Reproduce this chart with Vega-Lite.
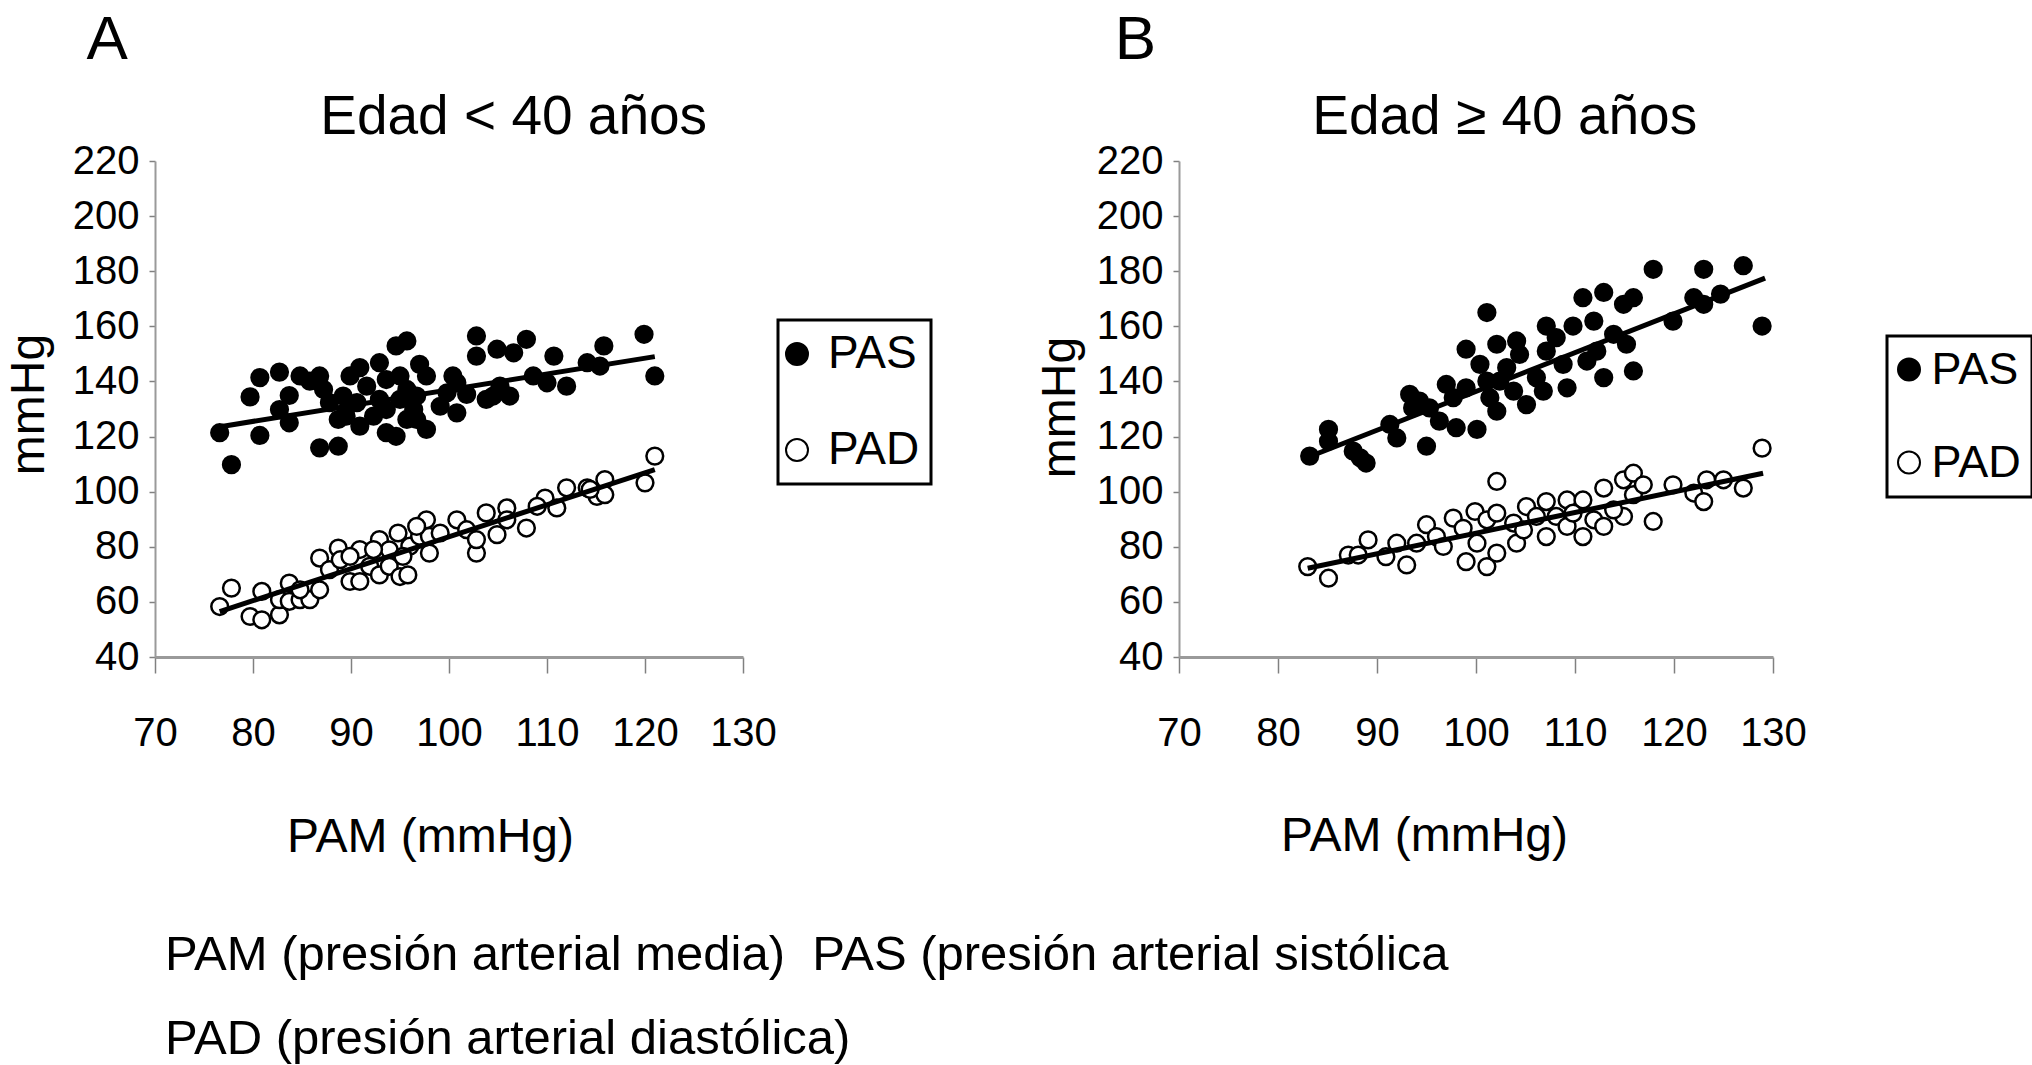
{
  "$schema": "https://vega.github.io/schema/vega-lite/v6.json",
  "autosize": {"type": "none"},
  "padding": {"left": 155, "top": 161, "right": 1877, "bottom": 904},
  "background": "white",
  "config": {
    "font": "Liberation Sans",
    "view": {"stroke": null},
    "axis": {
      "grid": false,
      "domainColor": "#9a9a9a",
      "tickColor": "#808080",
      "labelColor": "black",
      "titleColor": "black",
      "labelFont": "Liberation Sans",
      "titleFont": "Liberation Sans",
      "titleFontWeight": "normal",
      "labelFontSize": 40,
      "titleFontSize": 48,
      "labelFlush": false,
      "labelOverlap": false
    },
    "legend": {
      "labelFont": "Liberation Sans",
      "labelColor": "black",
      "strokeWidth": 3
    }
  },
  "title": {
    "text": ["PAM (presión arterial media)\u00a0 PAS (presión arterial sistólica", "PAD (presión arterial diastólica)"],
    "orient": "bottom",
    "anchor": "start",
    "frame": "group",
    "dx": 10,
    "offset": 70,
    "fontSize": 49,
    "fontWeight": "normal",
    "font": "Liberation Sans",
    "lineHeight": 84,
    "color": "black"
  },
  "datasets": {
    "pts": [
      {"panel":"A","serie":"PAS","pam":76.6,"mmhg":121.4},
      {"panel":"A","serie":"PAS","pam":77.8,"mmhg":109.8},
      {"panel":"A","serie":"PAS","pam":79.7,"mmhg":134.4},
      {"panel":"A","serie":"PAS","pam":80.7,"mmhg":141.4},
      {"panel":"A","serie":"PAS","pam":80.7,"mmhg":120.4},
      {"panel":"A","serie":"PAS","pam":82.7,"mmhg":143.4},
      {"panel":"A","serie":"PAS","pam":83.7,"mmhg":134.9},
      {"panel":"A","serie":"PAS","pam":83.7,"mmhg":125},
      {"panel":"A","serie":"PAS","pam":84.8,"mmhg":142},
      {"panel":"A","serie":"PAS","pam":82.7,"mmhg":129.8},
      {"panel":"A","serie":"PAS","pam":85.8,"mmhg":140.1},
      {"panel":"A","serie":"PAS","pam":86.8,"mmhg":142},
      {"panel":"A","serie":"PAS","pam":87.2,"mmhg":137.1},
      {"panel":"A","serie":"PAS","pam":87.8,"mmhg":132.3},
      {"panel":"A","serie":"PAS","pam":86.8,"mmhg":115.9},
      {"panel":"A","serie":"PAS","pam":88.7,"mmhg":116.5},
      {"panel":"A","serie":"PAS","pam":88.7,"mmhg":126.2},
      {"panel":"A","serie":"PAS","pam":89.9,"mmhg":142},
      {"panel":"A","serie":"PAS","pam":90.6,"mmhg":132.3},
      {"panel":"A","serie":"PAS","pam":90.9,"mmhg":145},
      {"panel":"A","serie":"PAS","pam":89.5,"mmhg":127.4},
      {"panel":"A","serie":"PAS","pam":91.6,"mmhg":138.3},
      {"panel":"A","serie":"PAS","pam":92.9,"mmhg":146.8},
      {"panel":"A","serie":"PAS","pam":90.9,"mmhg":123.8},
      {"panel":"A","serie":"PAS","pam":93.6,"mmhg":140.7},
      {"panel":"A","serie":"PAS","pam":93.6,"mmhg":121.4},
      {"panel":"A","serie":"PAS","pam":94.6,"mmhg":152.9},
      {"panel":"A","serie":"PAS","pam":95.7,"mmhg":154.7},
      {"panel":"A","serie":"PAS","pam":95,"mmhg":133.5},
      {"panel":"A","serie":"PAS","pam":94.6,"mmhg":120.1},
      {"panel":"A","serie":"PAS","pam":95.7,"mmhg":137.1},
      {"panel":"A","serie":"PAS","pam":96.4,"mmhg":129.8},
      {"panel":"A","serie":"PAS","pam":97,"mmhg":146.2},
      {"panel":"A","serie":"PAS","pam":97.7,"mmhg":142},
      {"panel":"A","serie":"PAS","pam":97.7,"mmhg":122.6},
      {"panel":"A","serie":"PAS","pam":96.7,"mmhg":134.7},
      {"panel":"A","serie":"PAS","pam":99.1,"mmhg":131},
      {"panel":"A","serie":"PAS","pam":99.8,"mmhg":135.9},
      {"panel":"A","serie":"PAS","pam":100.8,"mmhg":128.6},
      {"panel":"A","serie":"PAS","pam":100.8,"mmhg":139.5},
      {"panel":"A","serie":"PAS","pam":101.8,"mmhg":135.3},
      {"panel":"A","serie":"PAS","pam":102.8,"mmhg":156.5},
      {"panel":"A","serie":"PAS","pam":102.8,"mmhg":149.2},
      {"panel":"A","serie":"PAS","pam":103.8,"mmhg":133.5},
      {"panel":"A","serie":"PAS","pam":104.9,"mmhg":151.7},
      {"panel":"A","serie":"PAS","pam":105.2,"mmhg":138.3},
      {"panel":"A","serie":"PAS","pam":106.2,"mmhg":134.7},
      {"panel":"A","serie":"PAS","pam":106.6,"mmhg":150.4},
      {"panel":"A","serie":"PAS","pam":107.9,"mmhg":155.3},
      {"panel":"A","serie":"PAS","pam":110,"mmhg":139.5},
      {"panel":"A","serie":"PAS","pam":110.7,"mmhg":149.2},
      {"panel":"A","serie":"PAS","pam":112,"mmhg":138.3},
      {"panel":"A","serie":"PAS","pam":114.1,"mmhg":146.8},
      {"panel":"A","serie":"PAS","pam":115.8,"mmhg":152.9},
      {"panel":"A","serie":"PAS","pam":115.4,"mmhg":145.6},
      {"panel":"A","serie":"PAS","pam":119.9,"mmhg":157.1},
      {"panel":"A","serie":"PAS","pam":121,"mmhg":142},
      {"panel":"A","serie":"PAS","pam":92.9,"mmhg":133.5},
      {"panel":"A","serie":"PAS","pam":93.6,"mmhg":129.8},
      {"panel":"A","serie":"PAS","pam":95.7,"mmhg":126.2},
      {"panel":"A","serie":"PAS","pam":96.7,"mmhg":126.2},
      {"panel":"A","serie":"PAS","pam":95,"mmhg":142},
      {"panel":"A","serie":"PAS","pam":92.3,"mmhg":127.4},
      {"panel":"A","serie":"PAS","pam":89.2,"mmhg":134.7},
      {"panel":"A","serie":"PAS","pam":104.5,"mmhg":134.7},
      {"panel":"A","serie":"PAS","pam":108.6,"mmhg":142},
      {"panel":"A","serie":"PAS","pam":100.4,"mmhg":142},
      {"panel":"A","serie":"PAD","pam":76.6,"mmhg":58.3},
      {"panel":"A","serie":"PAD","pam":77.8,"mmhg":65},
      {"panel":"A","serie":"PAD","pam":79.7,"mmhg":54.7},
      {"panel":"A","serie":"PAD","pam":80.9,"mmhg":53.5},
      {"panel":"A","serie":"PAD","pam":80.9,"mmhg":63.8},
      {"panel":"A","serie":"PAD","pam":82.7,"mmhg":55.3},
      {"panel":"A","serie":"PAD","pam":82.7,"mmhg":60.8},
      {"panel":"A","serie":"PAD","pam":83.7,"mmhg":66.8},
      {"panel":"A","serie":"PAD","pam":83.7,"mmhg":60.2},
      {"panel":"A","serie":"PAD","pam":84.8,"mmhg":60.8},
      {"panel":"A","serie":"PAD","pam":85.8,"mmhg":60.8},
      {"panel":"A","serie":"PAD","pam":86.8,"mmhg":64.4},
      {"panel":"A","serie":"PAD","pam":86.8,"mmhg":75.9},
      {"panel":"A","serie":"PAD","pam":87.8,"mmhg":71.7},
      {"panel":"A","serie":"PAD","pam":88.7,"mmhg":79.5},
      {"panel":"A","serie":"PAD","pam":88.9,"mmhg":75.3},
      {"panel":"A","serie":"PAD","pam":89.9,"mmhg":67.4},
      {"panel":"A","serie":"PAD","pam":90.9,"mmhg":79},
      {"panel":"A","serie":"PAD","pam":90.9,"mmhg":67.4},
      {"panel":"A","serie":"PAD","pam":89.9,"mmhg":76.5},
      {"panel":"A","serie":"PAD","pam":91.9,"mmhg":72.9},
      {"panel":"A","serie":"PAD","pam":92.9,"mmhg":82.6},
      {"panel":"A","serie":"PAD","pam":92.9,"mmhg":69.8},
      {"panel":"A","serie":"PAD","pam":93.9,"mmhg":78.9},
      {"panel":"A","serie":"PAD","pam":93.9,"mmhg":72.9},
      {"panel":"A","serie":"PAD","pam":94.8,"mmhg":85},
      {"panel":"A","serie":"PAD","pam":95,"mmhg":69.2},
      {"panel":"A","serie":"PAD","pam":95.8,"mmhg":69.8},
      {"panel":"A","serie":"PAD","pam":96,"mmhg":80.2},
      {"panel":"A","serie":"PAD","pam":97,"mmhg":83.8},
      {"panel":"A","serie":"PAD","pam":97.7,"mmhg":89.8},
      {"panel":"A","serie":"PAD","pam":98,"mmhg":77.7},
      {"panel":"A","serie":"PAD","pam":98,"mmhg":83.8},
      {"panel":"A","serie":"PAD","pam":99.1,"mmhg":85},
      {"panel":"A","serie":"PAD","pam":100.8,"mmhg":89.8},
      {"panel":"A","serie":"PAD","pam":101.8,"mmhg":86.2},
      {"panel":"A","serie":"PAD","pam":102.8,"mmhg":77.7},
      {"panel":"A","serie":"PAD","pam":102.8,"mmhg":82.6},
      {"panel":"A","serie":"PAD","pam":103.8,"mmhg":92.3},
      {"panel":"A","serie":"PAD","pam":104.9,"mmhg":84.4},
      {"panel":"A","serie":"PAD","pam":105.9,"mmhg":94.1},
      {"panel":"A","serie":"PAD","pam":105.9,"mmhg":89.8},
      {"panel":"A","serie":"PAD","pam":107.9,"mmhg":86.8},
      {"panel":"A","serie":"PAD","pam":109.8,"mmhg":97.7},
      {"panel":"A","serie":"PAD","pam":111,"mmhg":94.1},
      {"panel":"A","serie":"PAD","pam":112,"mmhg":101.4},
      {"panel":"A","serie":"PAD","pam":114.1,"mmhg":101.4},
      {"panel":"A","serie":"PAD","pam":115.1,"mmhg":98.3},
      {"panel":"A","serie":"PAD","pam":115.9,"mmhg":104.4},
      {"panel":"A","serie":"PAD","pam":115.9,"mmhg":98.9},
      {"panel":"A","serie":"PAD","pam":120,"mmhg":103.2},
      {"panel":"A","serie":"PAD","pam":121,"mmhg":112.9},
      {"panel":"A","serie":"PAD","pam":96.7,"mmhg":87.4},
      {"panel":"A","serie":"PAD","pam":92.3,"mmhg":79},
      {"panel":"A","serie":"PAD","pam":95.3,"mmhg":76.5},
      {"panel":"A","serie":"PAD","pam":84.8,"mmhg":64.4},
      {"panel":"A","serie":"PAD","pam":109,"mmhg":94.7},
      {"panel":"A","serie":"PAD","pam":114.4,"mmhg":100.8},
      {"panel":"B","serie":"PAS","pam":83.2,"mmhg":112.9},
      {"panel":"B","serie":"PAS","pam":85.1,"mmhg":122.6},
      {"panel":"B","serie":"PAS","pam":85.1,"mmhg":118.3},
      {"panel":"B","serie":"PAS","pam":87.6,"mmhg":114.7},
      {"panel":"B","serie":"PAS","pam":88.9,"mmhg":110.4},
      {"panel":"B","serie":"PAS","pam":88.3,"mmhg":112.3},
      {"panel":"B","serie":"PAS","pam":91.3,"mmhg":124.4},
      {"panel":"B","serie":"PAS","pam":92,"mmhg":119.5},
      {"panel":"B","serie":"PAS","pam":93.3,"mmhg":135.3},
      {"panel":"B","serie":"PAS","pam":93.6,"mmhg":130.4},
      {"panel":"B","serie":"PAS","pam":95,"mmhg":116.5},
      {"panel":"B","serie":"PAS","pam":95.3,"mmhg":130.4},
      {"panel":"B","serie":"PAS","pam":96.3,"mmhg":125.6},
      {"panel":"B","serie":"PAS","pam":97,"mmhg":138.9},
      {"panel":"B","serie":"PAS","pam":97.7,"mmhg":134.1},
      {"panel":"B","serie":"PAS","pam":98,"mmhg":123.2},
      {"panel":"B","serie":"PAS","pam":99,"mmhg":151.7},
      {"panel":"B","serie":"PAS","pam":100.1,"mmhg":122.6},
      {"panel":"B","serie":"PAS","pam":100.4,"mmhg":146.2},
      {"panel":"B","serie":"PAS","pam":101.1,"mmhg":165},
      {"panel":"B","serie":"PAS","pam":101.4,"mmhg":134.1},
      {"panel":"B","serie":"PAS","pam":102.1,"mmhg":153.5},
      {"panel":"B","serie":"PAS","pam":102.1,"mmhg":129.2},
      {"panel":"B","serie":"PAS","pam":102.4,"mmhg":140.1},
      {"panel":"B","serie":"PAS","pam":103.8,"mmhg":136.5},
      {"panel":"B","serie":"PAS","pam":104.1,"mmhg":154.7},
      {"panel":"B","serie":"PAS","pam":104.4,"mmhg":149.8},
      {"panel":"B","serie":"PAS","pam":105.1,"mmhg":131.6},
      {"panel":"B","serie":"PAS","pam":106.1,"mmhg":141.4},
      {"panel":"B","serie":"PAS","pam":106.8,"mmhg":136.5},
      {"panel":"B","serie":"PAS","pam":107.1,"mmhg":160.1},
      {"panel":"B","serie":"PAS","pam":107.1,"mmhg":151},
      {"panel":"B","serie":"PAS","pam":108.1,"mmhg":155.9},
      {"panel":"B","serie":"PAS","pam":108.8,"mmhg":146.2},
      {"panel":"B","serie":"PAS","pam":109.2,"mmhg":137.7},
      {"panel":"B","serie":"PAS","pam":109.8,"mmhg":160.1},
      {"panel":"B","serie":"PAS","pam":110.8,"mmhg":170.4},
      {"panel":"B","serie":"PAS","pam":111.2,"mmhg":147.4},
      {"panel":"B","serie":"PAS","pam":111.9,"mmhg":161.9},
      {"panel":"B","serie":"PAS","pam":112.9,"mmhg":172.3},
      {"panel":"B","serie":"PAS","pam":112.9,"mmhg":141.4},
      {"panel":"B","serie":"PAS","pam":113.9,"mmhg":157.1},
      {"panel":"B","serie":"PAS","pam":114.9,"mmhg":168},
      {"panel":"B","serie":"PAS","pam":115.9,"mmhg":170.4},
      {"panel":"B","serie":"PAS","pam":115.9,"mmhg":143.8},
      {"panel":"B","serie":"PAS","pam":115.2,"mmhg":153.5},
      {"panel":"B","serie":"PAS","pam":117.9,"mmhg":180.7},
      {"panel":"B","serie":"PAS","pam":119.9,"mmhg":161.9},
      {"panel":"B","serie":"PAS","pam":122,"mmhg":170.4},
      {"panel":"B","serie":"PAS","pam":123,"mmhg":180.7},
      {"panel":"B","serie":"PAS","pam":123,"mmhg":168},
      {"panel":"B","serie":"PAS","pam":124.7,"mmhg":171.7},
      {"panel":"B","serie":"PAS","pam":127,"mmhg":182},
      {"panel":"B","serie":"PAS","pam":128.9,"mmhg":160.1},
      {"panel":"B","serie":"PAS","pam":99,"mmhg":137.7},
      {"panel":"B","serie":"PAS","pam":94.3,"mmhg":132.9},
      {"panel":"B","serie":"PAS","pam":101.1,"mmhg":140.1},
      {"panel":"B","serie":"PAS","pam":112.2,"mmhg":151},
      {"panel":"B","serie":"PAS","pam":103.1,"mmhg":145},
      {"panel":"B","serie":"PAD","pam":83,"mmhg":72.8},
      {"panel":"B","serie":"PAD","pam":85.1,"mmhg":68.6},
      {"panel":"B","serie":"PAD","pam":87.1,"mmhg":77},
      {"panel":"B","serie":"PAD","pam":88.1,"mmhg":77},
      {"panel":"B","serie":"PAD","pam":89.1,"mmhg":82.5},
      {"panel":"B","serie":"PAD","pam":90.9,"mmhg":76.4},
      {"panel":"B","serie":"PAD","pam":92,"mmhg":81.3},
      {"panel":"B","serie":"PAD","pam":93,"mmhg":73.4},
      {"panel":"B","serie":"PAD","pam":94,"mmhg":81.3},
      {"panel":"B","serie":"PAD","pam":95,"mmhg":88},
      {"panel":"B","serie":"PAD","pam":96,"mmhg":83.7},
      {"panel":"B","serie":"PAD","pam":96.7,"mmhg":80.1},
      {"panel":"B","serie":"PAD","pam":97.7,"mmhg":90.4},
      {"panel":"B","serie":"PAD","pam":98.7,"mmhg":86.7},
      {"panel":"B","serie":"PAD","pam":99,"mmhg":74.6},
      {"panel":"B","serie":"PAD","pam":99.9,"mmhg":92.8},
      {"panel":"B","serie":"PAD","pam":100.1,"mmhg":81.3},
      {"panel":"B","serie":"PAD","pam":101.1,"mmhg":72.8},
      {"panel":"B","serie":"PAD","pam":101.1,"mmhg":89.8},
      {"panel":"B","serie":"PAD","pam":102.1,"mmhg":103.7},
      {"panel":"B","serie":"PAD","pam":102.1,"mmhg":77.7},
      {"panel":"B","serie":"PAD","pam":102.1,"mmhg":92.2},
      {"panel":"B","serie":"PAD","pam":103.8,"mmhg":88.6},
      {"panel":"B","serie":"PAD","pam":104.1,"mmhg":81.3},
      {"panel":"B","serie":"PAD","pam":105.1,"mmhg":94.6},
      {"panel":"B","serie":"PAD","pam":106.1,"mmhg":91},
      {"panel":"B","serie":"PAD","pam":107.1,"mmhg":96.4},
      {"panel":"B","serie":"PAD","pam":107.1,"mmhg":83.7},
      {"panel":"B","serie":"PAD","pam":108.1,"mmhg":91},
      {"panel":"B","serie":"PAD","pam":109.2,"mmhg":97},
      {"panel":"B","serie":"PAD","pam":109.2,"mmhg":87.4},
      {"panel":"B","serie":"PAD","pam":110.8,"mmhg":97},
      {"panel":"B","serie":"PAD","pam":110.8,"mmhg":83.7},
      {"panel":"B","serie":"PAD","pam":111.9,"mmhg":89.8},
      {"panel":"B","serie":"PAD","pam":112.9,"mmhg":101.3},
      {"panel":"B","serie":"PAD","pam":112.9,"mmhg":87.4},
      {"panel":"B","serie":"PAD","pam":114.9,"mmhg":104.3},
      {"panel":"B","serie":"PAD","pam":114.9,"mmhg":91},
      {"panel":"B","serie":"PAD","pam":115.9,"mmhg":106.7},
      {"panel":"B","serie":"PAD","pam":115.9,"mmhg":98.9},
      {"panel":"B","serie":"PAD","pam":116.9,"mmhg":102.5},
      {"panel":"B","serie":"PAD","pam":117.9,"mmhg":89.2},
      {"panel":"B","serie":"PAD","pam":119.9,"mmhg":102.5},
      {"panel":"B","serie":"PAD","pam":122,"mmhg":99.5},
      {"panel":"B","serie":"PAD","pam":123,"mmhg":96.4},
      {"panel":"B","serie":"PAD","pam":123.3,"mmhg":104.3},
      {"panel":"B","serie":"PAD","pam":125,"mmhg":104.3},
      {"panel":"B","serie":"PAD","pam":127,"mmhg":101.3},
      {"panel":"B","serie":"PAD","pam":128.9,"mmhg":115.8},
      {"panel":"B","serie":"PAD","pam":104.8,"mmhg":86.1},
      {"panel":"B","serie":"PAD","pam":109.8,"mmhg":92.2},
      {"panel":"B","serie":"PAD","pam":113.9,"mmhg":93.4}
    ],
    "lines": [
      {"panel":"A","serie":"PAS","pam":76.5,"mmhg":123.5},
      {"panel":"A","serie":"PAS","pam":121,"mmhg":149},
      {"panel":"A","serie":"PAD","pam":76.6,"mmhg":56.5},
      {"panel":"A","serie":"PAD","pam":121,"mmhg":108},
      {"panel":"B","serie":"PAS","pam":82.9,"mmhg":112.3},
      {"panel":"B","serie":"PAS","pam":129.2,"mmhg":177.5},
      {"panel":"B","serie":"PAD","pam":83,"mmhg":72.2},
      {"panel":"B","serie":"PAD","pam":129,"mmhg":106.7}
    ]
  },
  "hconcat": [
    {
      "width": 588,
      "height": 496,
      "layer": [
        {
          "data": {"name": "pts"},
          "transform": [{"filter": "datum.panel === 'A'"}],
          "mark": {"type": "point", "shape": "circle", "filled": true, "stroke": "black", "strokeWidth": 2.5, "size": 280, "opacity": 1},
          "encoding": {
            "x": {"field": "pam", "type": "quantitative", "scale": {"domain": [70, 130], "nice": false, "zero": false},
              "axis": {"values": [70, 80, 90, 100, 110, 120, 130], "tickSize": 16, "tickWidth": 1.5, "labelPadding": 72, "labelBaseline": "alphabetic", "domainWidth": 3, "title": "PAM (mmHg)", "titleX": 275, "titleY": 194, "titleAlign": "center", "titleBaseline": "alphabetic"}},
            "y": {"field": "mmhg", "type": "quantitative", "scale": {"domain": [40, 220], "nice": false, "zero": false},
              "axis": {"values": [40, 60, 80, 100, 120, 140, 160, 180, 200, 220], "tickSize": 6, "tickWidth": 1.5, "labelPadding": 10, "domainWidth": 2, "title": "mmHg", "titleFontSize": 48, "titleX": -112, "titleY": 243, "titleAngle": 270, "titleAlign": "center", "titleBaseline": "alphabetic"}},
            "fill": {"field": "serie", "type": "nominal", "scale": {"domain": ["PAS", "PAD"], "range": ["black", "white"]},
              "legend": {"title": null, "orient": "none", "legendX": 623, "legendY": 159, "direction": "vertical", "labelFontSize": 46, "symbolType": "circle", "symbolSize": 484, "symbolStrokeColor": "black", "symbolStrokeWidth": 2, "symbolOffset": -15, "rowPadding": 50, "padding": 11, "strokeColor": "black", "labelOffset": 8, "labelLimit": 0}}
          }
        },
        {
          "data": {"name": "lines"},
          "transform": [{"filter": "datum.panel === 'A'"}],
          "mark": {"type": "line", "color": "black", "strokeWidth": 5},
          "encoding": {
            "x": {"field": "pam", "type": "quantitative"},
            "y": {"field": "mmhg", "type": "quantitative"},
            "detail": {"field": "serie", "type": "nominal"}
          }
        },
        {
          "data": {"values": [{}]},
          "mark": {"type": "text", "fontSize": 55, "align": "center", "baseline": "alphabetic", "color": "black", "font": "Liberation Sans"},
          "encoding": {"x": {"datum": 106.6}, "y": {"datum": 229.8}, "text": {"value": "Edad < 40 años"}}
        },
        {
          "data": {"values": [{}]},
          "mark": {"type": "text", "fontSize": 62, "align": "left", "baseline": "alphabetic", "color": "black", "font": "Liberation Sans"},
          "encoding": {"x": {"datum": 63.0}, "y": {"datum": 257.1}, "text": {"value": "A"}}
        }
      ]
    },
    {
      "width": 594,
      "height": 496,
      "layer": [
        {
          "data": {"name": "pts"},
          "transform": [{"filter": "datum.panel === 'B'"}],
          "mark": {"type": "point", "shape": "circle", "filled": true, "stroke": "black", "strokeWidth": 2.5, "size": 280, "opacity": 1},
          "encoding": {
            "x": {"field": "pam", "type": "quantitative", "scale": {"domain": [70, 130], "nice": false, "zero": false},
              "axis": {"values": [70, 80, 90, 100, 110, 120, 130], "tickSize": 16, "tickWidth": 1.5, "labelPadding": 72, "labelBaseline": "alphabetic", "domainWidth": 3, "title": "PAM (mmHg)", "titleX": 245, "titleY": 193, "titleAlign": "center", "titleBaseline": "alphabetic"}},
            "y": {"field": "mmhg", "type": "quantitative", "scale": {"domain": [40, 220], "nice": false, "zero": false},
              "axis": {"values": [40, 60, 80, 100, 120, 140, 160, 180, 200, 220], "tickSize": 6, "tickWidth": 1.5, "labelPadding": 10, "domainWidth": 2, "title": "mmHg", "titleFontSize": 48, "titleX": -105, "titleY": 246, "titleAngle": 270, "titleAlign": "center", "titleBaseline": "alphabetic"}},
            "fill": {"field": "serie", "type": "nominal", "scale": {"domain": ["PAS", "PAD"], "range": ["black", "white"]},
              "legend": {"title": null, "orient": "none", "legendX": 708, "legendY": 175, "direction": "vertical", "labelFontSize": 45, "symbolType": "circle", "symbolSize": 484, "symbolStrokeColor": "black", "symbolStrokeWidth": 2, "symbolOffset": -11.5, "rowPadding": 47, "padding": 11, "strokeColor": "black", "labelOffset": 0, "labelLimit": 0}}
          }
        },
        {
          "data": {"name": "lines"},
          "transform": [{"filter": "datum.panel === 'B'"}],
          "mark": {"type": "line", "color": "black", "strokeWidth": 5},
          "encoding": {
            "x": {"field": "pam", "type": "quantitative"},
            "y": {"field": "mmhg", "type": "quantitative"},
            "detail": {"field": "serie", "type": "nominal"}
          }
        },
        {
          "data": {"values": [{}]},
          "mark": {"type": "text", "fontSize": 55, "align": "center", "baseline": "alphabetic", "color": "black", "font": "Liberation Sans"},
          "encoding": {"x": {"datum": 102.9}, "y": {"datum": 229.8}, "text": {"value": "Edad ≥ 40 años"}}
        },
        {
          "data": {"values": [{}]},
          "mark": {"type": "text", "fontSize": 62, "align": "left", "baseline": "alphabetic", "color": "black", "font": "Liberation Sans"},
          "encoding": {"x": {"datum": 63.5}, "y": {"datum": 257.1}, "text": {"value": "B"}}
        }
      ]
    }
  ],
  "spacing": 436,
  "bounds": "flush",
  "resolve": {"scale": {"fill": "independent", "x": "independent", "y": "independent"}, "legend": {"fill": "independent"}}
}
